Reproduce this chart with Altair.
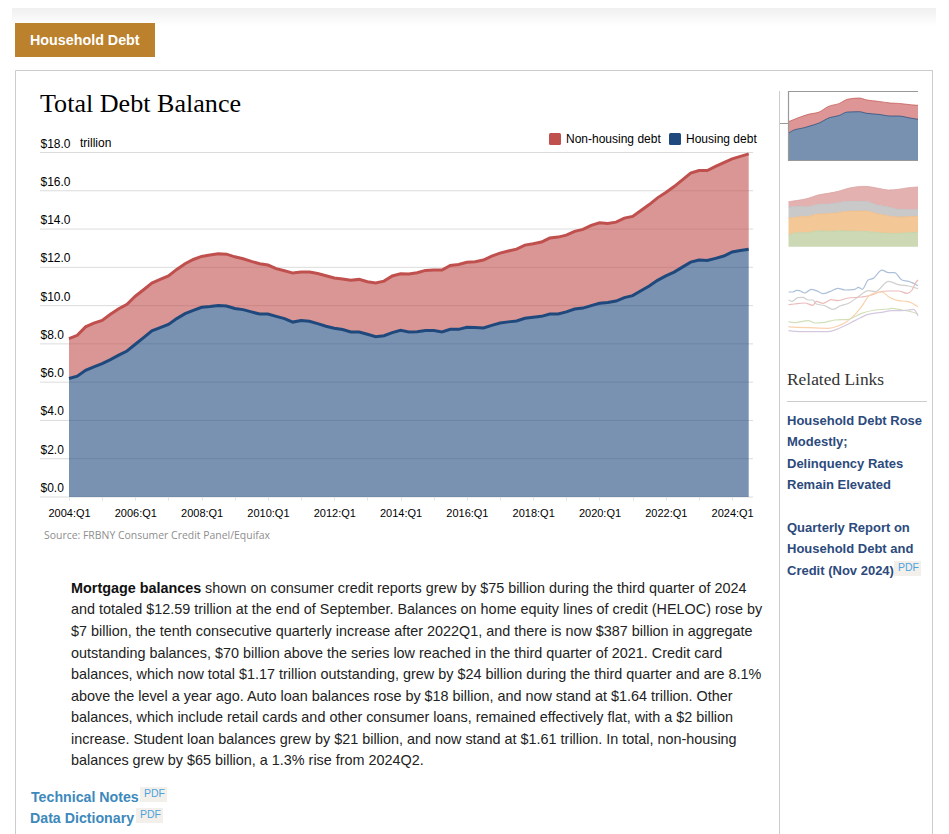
import altair as alt
import pandas as pd

# ---- main chart values (trillions of dollars, one per quarter from 2004:Q1)
total_debt = [8.28,8.45,8.89,9.09,9.23,9.55,9.84,10.07,10.49,10.83,11.18,11.37,11.55,11.89,12.19,12.41,12.57,12.64,12.71,12.69,
              12.55,12.45,12.31,12.19,12.12,11.93,11.82,11.70,11.75,11.75,11.68,11.56,11.44,11.39,11.32,11.37,11.25,11.18,11.28,11.55,
              11.66,11.65,11.72,11.84,11.86,11.86,12.10,12.15,12.26,12.29,12.38,12.59,12.74,12.85,12.95,13.16,13.23,13.32,13.53,13.58,
              13.68,13.88,13.98,14.19,14.33,14.29,14.36,14.57,14.66,14.97,15.28,15.63,15.91,16.22,16.57,16.92,17.06,17.06,17.27,17.47,
              17.67,17.80,17.93]
housing_debt = [6.19,6.31,6.62,6.80,6.97,7.18,7.41,7.63,7.98,8.33,8.68,8.85,9.02,9.32,9.58,9.75,9.91,9.95,10.00,9.98,
                9.85,9.79,9.67,9.56,9.56,9.44,9.32,9.14,9.22,9.18,9.06,8.92,8.82,8.75,8.62,8.62,8.50,8.38,8.43,8.59,
                8.71,8.62,8.64,8.70,8.70,8.62,8.76,8.76,8.87,8.85,8.83,8.97,9.09,9.15,9.20,9.34,9.39,9.44,9.56,9.56,
                9.67,9.82,9.87,10.00,10.12,10.16,10.24,10.42,10.52,10.78,11.02,11.32,11.55,11.75,12.01,12.27,12.38,12.36,12.47,12.59,
                12.80,12.88,12.95]
y_ticks = [0,2,4,6,8,10,12,14,16,18]
x_ticks = list(range(0,84,4))
series_names = ["Non-housing debt","Housing debt"]
series_colors = ["#c0504d","#1f497d"]

# ---- thumbnail 1
t1_top_t = [0,3,5,8,10,13,15,18,20,23,26,28,31,33]
t1_top_v = [7.88,8.84,9.38,9.93,10.96,11.64,12.47,12.74,12.33,12.05,11.71,11.64,11.37,11.23]
t1_low_t = [0,1,4,6,8,10,13,15,18,20,23,26,28,31,33]
t1_low_v = [5.48,6.03,6.64,7.12,7.67,8.56,9.18,9.86,9.93,9.59,9.38,9.04,9.04,8.63,8.36]

# ---- thumbnail 2 (stacked bands)
t2_t = [0,2.4,5,7.5,10.1,12.7,15.2,19.5,22.9,25.5,28,30.6,33]
t2_red = [13.5,13.9,14.5,15.5,16,16.6,17.5,18.1,17.5,17,17.2,17.7,17.9]
t2_grey = [11.8,12.1,12,12.7,12.8,13.2,13.6,13.6,12.4,11.9,11.2,11.1,11.2]
t2_orange = [8.5,8.9,9.1,9.8,9.9,10.2,10.6,10.7,9.8,9.2,8.9,9,9.1]
t2_green = [3.5,4.2,4.2,4.8,4.6,4.8,4.7,4.6,4.2,4,4,4.2,4.3]
t2_zero = [0]*13

# ---- thumbnail 3 (lines)
t3_blue_t = [0,1.1,2,2.8,4.1,5.8,7.1,8.8,10.5,12.6,14.4,16.9,17.8,18.8,20.3,21.6,23.8,25.5,27,28.9,30.6,33]
t3_blue_v = [12.4,12.4,12.9,12.8,12.1,13.2,12.8,11.9,12.5,13.5,13,13.2,13.8,13.2,16,16.5,19,18.2,18.2,16,15.6,14.3]
t3_grey_t = [0,.9,2.4,3.7,5,6.2,7.1,9.2,11.4,13.1,15.6,17.8,20.3,22.1,25.5,28,30.6,33]
t3_grey_v = [10,9.6,10.7,10.8,10,10,8.8,8.3,7.2,8.2,9.2,11,12.8,12.5,15.6,14.6,14.2,13.4]
t3_red_t = [0,1.5,4.1,6.2,7.1,8.8,10.9,12.6,15.2,18.6,21.2,22.9,25.5,28,30.2,31.5,32.3,33]
t3_red_v = [8.6,8.8,9.1,8.4,9.6,9,10.1,9.8,10.6,10.9,11.5,12.3,12.7,12.7,12,13,15,16]
t3_orange_t = [0,5,10.1,12.6,14.8,16.9,18.6,20.3,22.1,23.8,25.5,28,30.2,33]
t3_orange_v = [1.9,1.7,1.5,2.2,3.5,5.6,8,11,12.1,12.4,11,9.8,9.6,8]
t3_green_t = [0,1.5,5,6.7,9.2,11.8,15.2,18.6,22.1,25.5,26.3,28.9,31.5,33]
t3_green_v = [3.5,3.2,3.8,3.1,3.3,4,4.2,6,7,7.3,7.5,7,6.4,5.8]
t3_purple_t = [0,3.2,10.1,13.5,16.9,20.3,23.8,26.3,28.9,31.9,33]
t3_purple_v = [.8,.5,.5,1.8,3.8,5.7,6.3,6.8,6.8,7.2,5.2]

body_lines = [
    "and totaled $12.59 trillion at the end of September. Balances on home equity lines of credit (HELOC) rose by",
    "$7 billion, the tenth consecutive quarterly increase after 2022Q1, and there is now $387 billion in aggregate",
    "outstanding balances, $70 billion above the series low reached in the third quarter of 2021. Credit card",
    "balances, which now total $1.17 trillion outstanding, grew by $24 billion during the third quarter and are 8.1%",
    "above the level a year ago. Auto loan balances rose by $18 billion, and now stand at $1.64 trillion. Other",
    "balances, which include retail cards and other consumer loans, remained effectively flat, with a $2 billion",
    "increase. Student loan balances grew by $21 billion, and now stand at $1.61 trillion. In total, non-housing",
    "balances grew by $65 billion, a 1.3% rise from 2024Q2.",
]
related_lines = ["Household Debt Rose","Modestly;","Delinquency Rates","Remain Elevated"]
report_lines = ["Quarterly Report on","Household Debt and","Credit (Nov 2024)"]

SANS = "Liberation Sans"
SERIF = "Liberation Serif"
M = 8  # page margin

def px(v):
    return alt.value(v - M)

one = pd.DataFrame({"k":[0]})

def label(text, x, y, size=14.4, color="#222222", font=SANS, weight="normal", align="left"):
    return alt.Chart(pd.DataFrame({"t":[text]})).mark_text(
        font=font, fontSize=size, fontWeight=weight, color=color, align=align, baseline="middle"
    ).encode(text="t:N", x=px(x), y=px(y))

def box(x, x2, y, y2, color):
    return alt.Chart(one).mark_rect(color=color).encode(x=px(x), x2=px(x2), y=px(y), y2=px(y2))

def seg(x, x2, y, y2, color, w=1):
    return alt.Chart(one).mark_rule(color=color, strokeWidth=w).encode(x=px(x), x2=px(x2), y=px(y), y2=px(y2))

layers = []

# ---- page furniture
layers.append(alt.Chart(one).mark_rect(color=alt.Gradient(
    gradient="linear", x1=0, x2=0, y1=0, y2=1,
    stops=[alt.GradientStop(color="#efefef", offset=0), alt.GradientStop(color="#ffffff", offset=1)]
)).encode(x=px(12), x2=px(936), y=px(7), y2=px(26)))
layers.append(box(15, 155, 23, 57, "#bb812d"))
layers.append(label("Household Debt", 30, 40.5, size=14.3, color="white", weight="bold"))
layers.append(seg(15.5, 15.5, 70.5, 834, "#cccccc"))
layers.append(seg(15.5, 933, 70.5, 70.5, "#cccccc"))
layers.append(seg(932.5, 932.5, 70.5, 834, "#cccccc"))
layers.append(seg(779.5, 779.5, 91, 834, "#cccccc"))
layers.append(label("Total Debt Balance", 40, 104, size=26.1, color="#000000", font=SERIF))

# ---- main chart
df = pd.DataFrame({
    "q": list(range(len(total_debt))),
    "total": total_debt,
    "housing": housing_debt,
})
long = pd.concat([
    pd.DataFrame({"q":df.q,"low":df.housing,"high":df.total,"series":series_names[0]}),
    pd.DataFrame({"q":df.q,"low":[0]*len(df),"high":df.housing,"series":series_names[1]}),
])
x_main = alt.Scale(domain=[0,82], range=[69-M,748.7-M], nice=False, zero=False)
y_main = alt.Scale(domain=[0,18], range=[497-M,152.5-M], nice=False, zero=False)
color_main = alt.Scale(domain=series_names, range=series_colors)

grid = alt.Chart(pd.DataFrame({"v":y_ticks})).mark_rule(color="#dcdcdc", strokeWidth=1).encode(
    y=alt.Y("v:Q", scale=y_main, axis=None), x=px(40), x2=px(753))
layers.append(grid)

area = alt.Chart(long).mark_area(opacity=0.6, interpolate="linear").encode(
    x=alt.X("q:Q", scale=x_main, title=None, axis=alt.Axis(
        orient="bottom", offset=489-826, values=x_ticks, domain=False, grid=False,
        tickColor="#e2e2e2", tickSize=3, labelPadding=7, labelFontSize=11, labelFont=SANS,
        labelColor="#000000", labelOverlap=False, labelFlush=False, labelBound=False,
        labelExpr="datum.value % 8 == 0 ? (2004 + datum.value / 4) + ':Q1' : ''")),
    y=alt.Y("low:Q", scale=y_main, title=None, axis=alt.Axis(
        orient="left", offset=-32, values=y_ticks, domain=False, grid=False, ticks=False,
        labelPadding=0, labelAlign="left", labelBaseline="bottom", labelOffset=-2.5,
        labelFontSize=12, labelFont=SANS, labelColor="#000000", labelOverlap=False,
        labelBound=False, labelFlush=False, format="$.1f", zindex=1)),
    y2="high:Q",
    color=alt.Color("series:N", scale=color_main, sort=series_names, legend=alt.Legend(
        title=None, orient="none", legendX=549-M, legendY=133-M, direction="horizontal",
        symbolType="M -0.75 -1 H 0.75 Q 1 -1 1 -0.75 V 0.75 Q 1 1 0.75 1 H -0.75 Q -1 1 -1 0.75 V -0.75 Q -1 -1 -0.75 -1 Z",
        symbolSize=144, symbolOpacity=1, symbolStrokeWidth=0, labelFontSize=12, labelFont=SANS,
        labelColor="#000000", labelOffset=5, columnPadding=8, symbolOffset=0)),
)
layers.append(area)
line = alt.Chart(long).mark_line(strokeWidth=3, interpolate="linear").encode(
    x=alt.X("q:Q", scale=x_main, axis=None),
    y=alt.Y("high:Q", scale=y_main, axis=None),
    color=alt.Color("series:N", scale=color_main, sort=series_names, legend=None),
)
layers.append(line)
layers.append(label("trillion", 80, 143, size=12, color="#000000"))
layers.append(label("Source: FRBNY Consumer Credit Panel/Equifax", 44, 535.5, size=10.45, color="#8e8e8e", font="Open Sans"))

# ---- thumbnail helpers
def tx():
    return alt.Scale(domain=[0,33], range=[788.5-M,918-M], nice=False, zero=False)

t1y = alt.Scale(domain=[0,14], range=[160-M,160-M-68.1], nice=False, zero=False)
t1_top = pd.DataFrame({"t":t1_top_t,"v":t1_top_v})
t1_low = pd.DataFrame({"t":t1_low_t,"v":t1_low_v})
for frame, fill, edge in [(t1_top,"#dd9695","#c0504d"),(t1_low,"#7891b0","#1f497d")]:
    layers.append(alt.Chart(frame).mark_area(color=fill, interpolate="monotone").encode(
        x=alt.X("t:Q", scale=tx(), axis=None), y=alt.Y("v:Q", scale=t1y, axis=None)))
    layers.append(alt.Chart(frame).mark_line(color=edge, strokeWidth=1, opacity=0.7, interpolate="monotone").encode(
        x=alt.X("t:Q", scale=tx(), axis=None), y=alt.Y("v:Q", scale=t1y, axis=None)))
layers.append(seg(788, 918, 91.5, 91.5, "#999999", 1))
layers.append(seg(788.5, 788.5, 91, 161, "#999999", 1.2))
layers.append(seg(788, 918, 160.5, 160.5, "#999999", 1.2))
layers.append(seg(780, 788, 123.5, 123.5, "#999999", 1))

t2y = alt.Scale(domain=[0,20], range=[246.7-M,180-M], nice=False, zero=False)
bands = [(t2_red,t2_grey,"#e3b1b0","#dba6a5"),(t2_grey,t2_orange,"#c9c9c9","#c0c0c0"),
         (t2_orange,t2_green,"#f4c797","#f0bc88"),(t2_green,t2_zero,"#ccd9b4","#c2d2a6")]
for hi, lo, fill, edge in bands:
    frame = pd.DataFrame({"t":t2_t,"hi":hi,"lo":lo})
    layers.append(alt.Chart(frame).mark_area(color=fill, interpolate="monotone").encode(
        x=alt.X("t:Q", scale=tx(), axis=None), y=alt.Y("hi:Q", scale=t2y, axis=None), y2="lo:Q"))
    layers.append(alt.Chart(frame).mark_line(color=edge, strokeWidth=0.8, interpolate="monotone").encode(
        x=alt.X("t:Q", scale=tx(), axis=None), y=alt.Y("hi:Q", scale=t2y, axis=None)))

t3y = alt.Scale(domain=[0,20], range=[333.3-M,266.7-M], nice=False, zero=False)
for tt, vv, color in [(t3_blue_t,t3_blue_v,"#adc0d9"),(t3_grey_t,t3_grey_v,"#d0d0d0"),(t3_red_t,t3_red_v,"#eabdbb"),
                      (t3_orange_t,t3_orange_v,"#fad2ac"),(t3_green_t,t3_green_v,"#d2e0b8"),(t3_purple_t,t3_purple_v,"#d3c8e0")]:
    layers.append(alt.Chart(pd.DataFrame({"t":tt,"v":vv})).mark_line(color=color, strokeWidth=1.2, interpolate="monotone").encode(
        x=alt.X("t:Q", scale=tx(), axis=None), y=alt.Y("v:Q", scale=t3y, axis=None)))

# ---- sidebar text
layers.append(label("Related Links", 787, 379.5, size=17.4, color="#333333", font=SERIF))
layers.append(seg(787, 927, 401.5, 401.5, "#cccccc"))
LINK = "#2c4a7c"
for txt, yy in zip(related_lines, [420.5,441.5,463.5,484.5]):
    layers.append(label(txt, 787, yy, size=13, color=LINK, weight="bold"))
for txt, yy in zip(report_lines, [527.5,549,571]):
    layers.append(label(txt, 787, yy, size=13, color=LINK, weight="bold"))

def pdf_badge(x, y):
    return [box(x, x+27, y, y+15, "#f3f0ec"),
            label("PDF", x+4, y+7, size=10.5, color="#4da3dc")]
layers += pdf_badge(894, 561)

# ---- body text
layers.append(label("Mortgage balances", 71, 588.5, color="#111111", weight="bold"))
layers.append(label("shown on consumer credit reports grew by $75 billion during the third quarter of 2024", 205, 588.5))
for txt, yy in zip(body_lines, [610,631.5,653.5,675,696.5,718,739.5,761]):
    layers.append(label(txt, 71, yy))

layers.append(label("Technical Notes", 31, 798, size=14.2, color="#3d89bb", weight="bold"))
layers += pdf_badge(140, 787)
layers.append(label("Data Dictionary", 30, 819, size=14.2, color="#3d89bb", weight="bold"))
layers += pdf_badge(136, 808)

chart = alt.layer(*layers).resolve_scale(x="independent", y="independent", color="shared").properties(
    width=933, height=826, padding=0, autosize=alt.AutoSizeParams(type="none"), background="white"
).configure_view(stroke=None)

chart.save("out.html", embed_options={"renderer": "svg", "actions": False})
